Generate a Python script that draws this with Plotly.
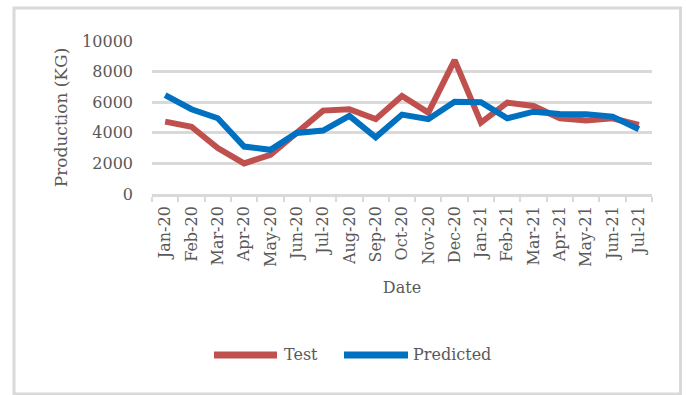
import plotly.graph_objects as go

dates = ["Jan-20", "Feb-20", "Mar-20", "Apr-20", "May-20", "Jun-20", "Jul-20", "Aug-20",
         "Sep-20", "Oct-20", "Nov-20", "Dec-20", "Jan-21", "Feb-21", "Mar-21", "Apr-21",
         "May-21", "Jun-21", "Jul-21"]
test_vals = [4730, 4400, 3000, 2000, 2560, 4000, 5450, 5540, 4890, 6400, 5320, 8750,
             4670, 5970, 5750, 4950, 4800, 4950, 4510]
pred_vals = [6460, 5540, 4950, 3100, 2890, 3990, 4150, 5100, 3710, 5190, 4890, 6030,
             6000, 4950, 5380, 5230, 5220, 5060, 4230]
y_ticks = [0, 2000, 4000, 6000, 8000, 10000]

FONT = "DejaVu Serif"
TXT = "#595959"
GRID = "#d9d9d9"
RED = "#C0504D"
BLUE = "#0070C0"

fig = go.Figure()
fig.add_trace(go.Scatter(x=dates, y=test_vals, name="Test", mode="lines",
                         line=dict(color=RED, width=6)))
fig.add_trace(go.Scatter(x=dates, y=pred_vals, name="Predicted", mode="lines",
                         line=dict(color=BLUE, width=6)))

# Manual legend (longer line samples, as in the original)
leg_y = -1.052
shapes = [
    dict(type="rect", xref="paper", yref="paper",
         x0=-0.276, x1=1.057, y0=-1.307, y1=1.216,
         line=dict(color=GRID, width=3), fillcolor="rgba(0,0,0,0)", layer="below"),
    dict(type="line", xref="paper", yref="paper", x0=0.124, x1=0.250, y0=leg_y, y1=leg_y,
         line=dict(color=RED, width=7)),
    dict(type="line", xref="paper", yref="paper", x0=0.384, x1=0.512, y0=leg_y, y1=leg_y,
         line=dict(color=BLUE, width=7)),
]
annotations = [
    dict(text="Test", xref="paper", yref="paper", x=0.260, y=leg_y, xanchor="left",
         yanchor="middle", showarrow=False, font=dict(family=FONT, size=16, color=TXT)),
    dict(text="Predicted", xref="paper", yref="paper", x=0.518, y=leg_y, xanchor="left",
         yanchor="middle", showarrow=False, font=dict(family=FONT, size=16, color=TXT)),
]

fig.update_layout(
    width=686, height=395,
    margin=dict(l=152, r=34, t=41, b=201, autoexpand=False),
    paper_bgcolor="white", plot_bgcolor="white",
    font=dict(family=FONT, size=16, color=TXT),
    showlegend=False,
    xaxis=dict(type="category", range=[-0.5, 18.5], tickangle=-90,
               tickson="boundaries", ticks="outside", ticklen=5, tickwidth=2, tickcolor=GRID,
               showline=True, linecolor=GRID, linewidth=2.5, showgrid=False,
               ticklabelstandoff=3, automargin=False,
               tickfont=dict(family=FONT, size=16, color=TXT),
               title=dict(text="Date", standoff=16, font=dict(family=FONT, size=16, color=TXT))),
    yaxis=dict(range=[0, 10000], tickvals=y_ticks, ticktext=[str(v) for v in y_ticks],
               showgrid=True, gridcolor=GRID, gridwidth=2.5, zeroline=False,
               showline=False, ticks="", ticklabelstandoff=18, automargin=False,
               tickfont=dict(family=FONT, size=16, color=TXT),
               title=dict(text="Production (KG)", standoff=10,
                          font=dict(family=FONT, size=17, color=TXT))),
    shapes=shapes,
    annotations=annotations,
)

fig.write_html("out.html", config={"displayModeBar": False},
               post_script="document.body.style.margin='0';document.body.style.padding='0';")
